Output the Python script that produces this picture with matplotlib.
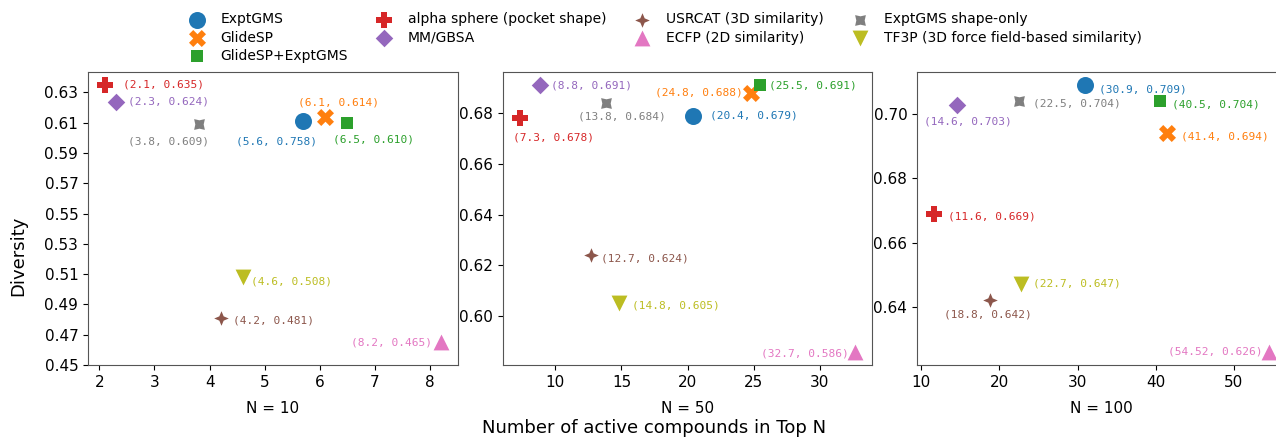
import numpy as np
import matplotlib
matplotlib.use('Agg')
import matplotlib.pyplot as plt
from matplotlib.path import Path

# methods, in legend order
methods = ['ExptGMS', 'GlideSP', 'GlideSP+ExptGMS', 'alpha sphere (pocket shape)', 'MM/GBSA',
           'USRCAT (3D similarity)', 'ECFP (2D similarity)', 'ExptGMS shape-only',
           'TF3P (3D force field-based similarity)']

# N = 10
n10_x = [5.7, 6.1, 6.5, 2.1, 2.3, 4.2, 8.2, 3.8, 4.6]
n10_y = [0.611, 0.614, 0.610, 0.635, 0.624, 0.481, 0.465, 0.609, 0.508]
n10_lab = ['(5.6, 0.758)', '(6.1, 0.614)', '(6.5, 0.610)', '(2.1, 0.635)', '(2.3, 0.624)',
           '(4.2, 0.481)', '(8.2, 0.465)', '(3.8, 0.609)', '(4.6, 0.508)']

# N = 50
n50_x = [20.4, 24.8, 25.5, 7.3, 8.8, 12.7, 32.7, 13.8, 14.8]
n50_y = [0.679, 0.688, 0.691, 0.678, 0.691, 0.624, 0.586, 0.684, 0.605]
n50_lab = ['(20.4, 0.679)', '(24.8, 0.688)', '(25.5, 0.691)', '(7.3, 0.678)', '(8.8, 0.691)',
           '(12.7, 0.624)', '(32.7, 0.586)', '(13.8, 0.684)', '(14.8, 0.605)']

# N = 100
n100_x = [30.9, 41.4, 40.5, 11.6, 14.6, 18.8, 54.52, 22.5, 22.7]
n100_y = [0.709, 0.694, 0.704, 0.669, 0.703, 0.642, 0.626, 0.704, 0.647]
n100_lab = ['(30.9, 0.709)', '(41.4, 0.694)', '(40.5, 0.704)', '(11.6, 0.669)', '(14.6, 0.703)',
            '(18.8, 0.642)', '(54.52, 0.626)', '(22.5, 0.704)', '(22.7, 0.647)']


def star4(inner, rot):
    # 4-point star marker, outer radius 1
    ang = np.deg2rad(np.arange(8) * 45.0 + 90 + rot)
    rad = np.where(np.arange(8) % 2 == 0, 1.0, inner)
    verts = np.column_stack([rad * np.cos(ang), rad * np.sin(ang)])
    verts = np.vstack([verts, verts[:1]])
    codes = [Path.MOVETO] + [Path.LINETO] * 7 + [Path.CLOSEPOLY]
    return Path(verts, codes)


colors = ['tab:blue', 'tab:orange', 'tab:green', 'tab:red', 'tab:purple',
          'tab:brown', 'tab:pink', 'tab:gray', 'tab:olive']
markers = ['o', 'X', 's', 'P', 'D', star4(0.42, 0), '^', star4(0.55, 45), 'v']
sizes = [150, 150, 70, 130, 80, 110, 130, 60, 130]

# label offsets in pixels (dx, dy, ha)
offs10 = [(-27, -20, 'center'), (13, 14, 'center'), (26, -17, 'center'), (18, 0, 'left'),
          (12, 0, 'left'), (12, -2, 'left'), (-9, 0, 'right'), (-30, -17, 'center'), (8, -4, 'left')]
offs50 = [(17, 0, 'left'), (-8, 0, 'right'), (9, 0, 'left'), (34, -19, 'center'),
          (11, 0, 'left'), (10, -3, 'left'), (-6, -2, 'right'), (16, -13, 'center'), (13, -2, 'left')]
offs100 = [(14, -4, 'left'), (14, -3, 'left'), (12, -3, 'left'), (14, -3, 'left'),
           (11, -17, 'center'), (-2, -14, 'center'), (-7, 0, 'right'), (14, -2, 'left'), (12, 1, 'left')]

fig = plt.figure(figsize=(12.76, 4.41), dpi=100)
W, H = 1276.0, 441.0
lefts = [88, 503, 917]
ax1 = fig.add_axes([lefts[0] / W, 1 - 365 / H, 370 / W, 293 / H])
ax2 = fig.add_axes([lefts[1] / W, 1 - 365 / H, 369 / W, 293 / H])
ax3 = fig.add_axes([lefts[2] / W, 1 - 365 / H, 369 / W, 293 / H])

panels = [(ax1, n10_x, n10_y, n10_lab, offs10, 'N = 10'),
          (ax2, n50_x, n50_y, n50_lab, offs50, 'N = 50'),
          (ax3, n100_x, n100_y, n100_lab, offs100, 'N = 100')]

for ax, xs, ys, labs, offs, title in panels:
    for i in range(len(methods)):
        ax.scatter(xs[i], ys[i], s=sizes[i], c=colors[i], marker=markers[i],
                   label=methods[i], linewidths=0)
        ax.annotate(labs[i], (xs[i], ys[i]), xytext=(offs[i][0], offs[i][1]),
                    textcoords='offset pixels', ha=offs[i][2], va='center',
                    color=colors[i], fontsize=8, family='DejaVu Sans Mono')
    ax.set_xlabel(title, fontsize=11, labelpad=8)
    ax.tick_params(labelsize=11)
    for sp in ax.spines.values():
        sp.set_color('#555555')

ax1.set_yticks(np.arange(0.45, 0.64, 0.02))
ax1.set_ylim(0.45, 0.6435)
ax1.set_yticklabels(['%.2f' % v for v in np.arange(0.45, 0.64, 0.02)])

fig.text(18 / W, 1 - 256 / H, 'Diversity', rotation=90, ha='center', va='center', fontsize=13)
fig.text(654 / W, 1 - 428 / H, 'Number of active compounds in Top N', ha='center', va='center', fontsize=13)

handles, labels = ax1.get_legend_handles_labels()
fig.legend(handles, labels, ncol=4, loc='upper center', bbox_to_anchor=(0.519, 1.0),
           frameon=False, fontsize=10, markerscale=1.0, handletextpad=0.7,
           columnspacing=1.6, labelspacing=0.3)

plt.savefig('out.png', dpi=100)
